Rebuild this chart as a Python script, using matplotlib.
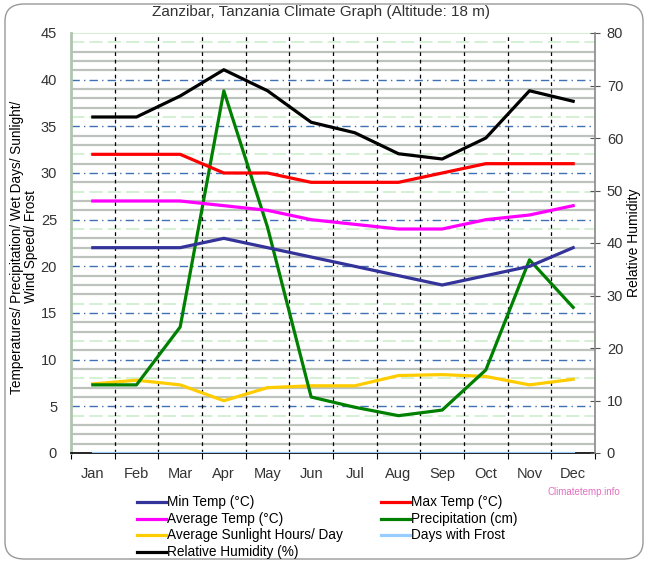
import matplotlib
matplotlib.use("Agg")
import matplotlib.pyplot as plt
from matplotlib.lines import Line2D
from matplotlib.patches import FancyBboxPatch

# Monthly climate values for Zanzibar
months = ["Jan", "Feb", "Mar", "Apr", "May", "Jun",
          "Jul", "Aug", "Sep", "Oct", "Nov", "Dec"]
min_temp = [22, 22, 22, 23, 22, 21, 20, 19, 18, 19, 20, 22]
max_temp = [32, 32, 32, 30, 30, 29, 29, 29, 30, 31, 31, 31]
avg_temp = [27, 27, 27, 26.5, 26, 25, 24.5, 24, 24, 25, 25.5, 26.5]
precip = [7.3, 7.3, 13.5, 38.8, 24.2, 6.0, 4.9, 4.0, 4.6, 8.9, 20.7, 15.6]
sunlight = [7.4, 7.8, 7.3, 5.6, 7.0, 7.2, 7.2, 8.3, 8.4, 8.2, 7.3, 7.9]
frost = [0] * 12
humidity = [64, 64, 68, 73, 69, 63, 61, 57, 56, 60, 69, 67]

txt = "#333333"
plt.rcParams["font.family"] = ["Liberation Sans", "DejaVu Sans"]
plt.rcParams["font.size"] = 10

fig = plt.figure(figsize=(6.49, 5.63), dpi=100)
W, H = 649, 563

# rounded outer border
fig.add_artist(FancyBboxPatch((5 / W, 4 / H), 638 / W, 555 / H,
                              boxstyle="round,pad=0,rounding_size=0.03",
                              transform=fig.transFigure, fill=False,
                              edgecolor="#999999", linewidth=1.0))

ax = fig.add_axes([71 / W, 110 / H, 524 / W, 420 / H])
ax2 = ax.twinx()

x = list(range(1, 13))
ax.set_xlim(0.5, 12.5)
ax.set_ylim(0, 45)
ax2.set_ylim(0, 80)

# horizontal grid
for v in range(1, 45):
    if v % 5 == 0:
        ax.axhline(v, color="#3f72b4", lw=1.0, ls=(0, (6, 3, 1, 3)), zorder=1)
    elif v % 4 == 0:
        ax.axhline(v, color="#cdeecd", lw=1.2, ls=(0, (8, 3)), zorder=1)
    else:
        ax.axhline(v, color="#bcc3bc", lw=1.6, zorder=1)
ax.axhline(45, color="#cdeecd", lw=1.2, zorder=1)

# month separators
for b in [i + 0.5 for i in range(1, 12)]:
    ax.axvline(b, color="black", lw=0.9, ls=(0, (3, 3)), zorder=2)

lw = 2.3
ax.plot(x, frost, color="#99ccff", lw=lw, zorder=3)
ax.plot(x, sunlight, color="#ffcc00", lw=lw, zorder=4)
ax.plot(x, precip, color="#008000", lw=lw, zorder=5)
ax.plot(x, min_temp, color="#333399", lw=lw, zorder=5)
ax.plot(x, avg_temp, color="#ff00ff", lw=lw, zorder=5)
ax.plot(x, max_temp, color="#ff0000", lw=lw, zorder=5)
ax2.plot(x, humidity, color="black", lw=lw, zorder=6)

# axes styling
ax.spines["top"].set_visible(False)
ax2.spines["top"].set_visible(False)
ax.spines["left"].set_color("#b0c4b0")
ax.spines["left"].set_linewidth(2)
ax.spines["right"].set_visible(False)
ax2.spines["left"].set_visible(False)
ax2.spines["bottom"].set_visible(False)
ax2.spines["right"].set_color("#888888")
ax2.spines["right"].set_linewidth(1.2)
ax.spines["bottom"].set_color("black")
ax.spines["bottom"].set_linewidth(1.2)

ax.set_yticks(range(0, 46, 5))
ax.tick_params(axis="y", length=0, pad=10, labelcolor=txt, labelsize=10.5)
ax.set_xticks([i + 0.5 for i in range(0, 13)], minor=False)
ax.set_xticklabels([])
ax.set_xticks(x, minor=True)
ax.set_xticklabels(months, minor=True)
ax.tick_params(axis="x", which="major", length=4, direction="out", color="black")
ax.tick_params(axis="x", which="minor", length=0, pad=10, labelcolor=txt, labelsize=10.5)

ax2.set_yticks(range(0, 81, 10))
ax2.tick_params(axis="y", length=7, direction="inout", color="#555555",
                pad=5, labelcolor=txt, labelsize=10.5)

# two-line left axis title, each line centred on the plot
for lx, line in [(17, "Temperatures/ Precipitation/ Wet Days/ Sunlight/"),
                 (31, "Wind Speed/ Frost")]:
    fig.text(lx / W, 1 - 247 / H, line, rotation=90, ha="center", va="center",
             color="black", fontsize=9.8)
ax2.set_ylabel("Relative Humidity", color="black", fontsize=10, labelpad=3)

fig.text(0.495, 1 - 12 / H, "Zanzibar, Tanzania Climate Graph (Altitude: 18 m)",
         ha="center", va="center", color=txt, fontsize=11)

# legend
entries = [
    ("Min Temp (°C)", "#333399", 137, 502),
    ("Average Temp (°C)", "#ff00ff", 137, 519),
    ("Average Sunlight Hours/ Day", "#ffcc00", 137, 535),
    ("Relative Humidity (%)", "black", 137, 552),
    ("Max Temp (°C)", "#ff0000", 381, 502),
    ("Precipitation (cm)", "#008000", 381, 519),
    ("Days with Frost", "#99ccff", 381, 535),
]
for label, col, lx, ly in entries:
    fig.add_artist(Line2D([lx / W, (lx + 29) / W], [1 - ly / H, 1 - ly / H],
                          color=col, lw=2.3, transform=fig.transFigure))
    fig.text((lx + 30) / W, 1 - ly / H, label, ha="left", va="center",
             color="black", fontsize=9.8)

fig.text(548 / W, 1 - 492 / H, "Climatetemp.info", ha="left", va="center",
         color="#e070c0", fontsize=7)

fig.savefig("out.png", dpi=100)
